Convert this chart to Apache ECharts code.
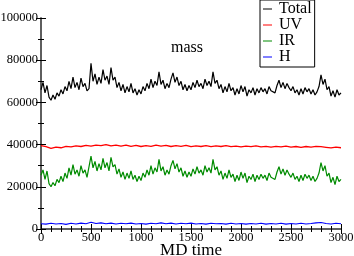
<!DOCTYPE html>
<html><head><meta charset="utf-8">
<script src="https://cdn.jsdelivr.net/npm/echarts@6/dist/echarts.min.js"></script>
<style>html,body{margin:0;padding:0;background:#fff}#c{width:354px;height:256px}</style>
</head><body><div id="c"></div>
<script>
// MD time sampling steps
const stepTotal = 20, stepUV = 50, stepH = 50;
const xTicks = [0, 500, 1000, 1500, 2000, 2500, 3000];
const yTicks = [0, 20000, 40000, 60000, 80000, 100000];
const seriesNames = ['Total', 'UV', 'IR', 'H'];
const totalVals = [66000,69500,64500,68000,62500,61000,63500,61500,64500,63000,
66000,64000,67500,65500,70000,66500,72000,67000,69500,66000,
71500,67500,69000,65500,66500,78500,70000,73500,68500,72000,
69000,75500,70500,72500,68500,76500,70500,72000,67000,69500,
65500,68500,64500,67500,65000,69000,64500,66500,63500,66000,
64000,67500,65500,69000,66500,71000,67000,70000,68000,74500,
68500,70500,66500,69000,67000,71000,74000,69500,72000,68000,
70000,66000,68500,65500,68000,66000,69500,67000,70500,67500,
69000,66500,71000,68000,70000,67500,74500,69000,70500,66500,
68500,64500,67500,65000,69000,65500,67000,63500,66500,64000,
68000,65000,67500,63000,66000,64500,67000,63500,66500,64500,
67000,65000,66500,64000,67500,65500,66000,64500,68000,70500,
67000,69500,66500,69000,67000,65500,67500,64500,66000,63500,
66500,64000,67000,65000,66500,64000,66000,63500,65000,67500,
73000,68500,71000,66000,67500,63000,65500,62500,66000,63500,
64500];
const irVals = [25500,28000,23500,27500,21500,20000,22000,20500,23500,22000,
25000,22500,26500,24000,29000,25500,30500,26000,28000,25000,
30000,26500,28000,24500,25000,34500,29000,32000,27500,31000,
28000,33500,29000,31500,27500,34000,29500,30500,26000,28500,
24500,27000,23500,26500,24000,27500,23500,25500,22500,25000,
23000,26500,24500,28000,25500,30000,26000,29000,27000,33000,
27500,29500,25500,28000,26000,30000,32500,28500,31000,27000,
29000,25000,27500,24500,27000,25000,28500,26000,29500,26500,
28000,25500,30000,27000,29000,26500,33000,28000,29500,25500,
27500,23500,26500,24000,28000,24500,26000,22500,25500,23000,
27000,24000,26500,22000,25000,23500,26000,22500,25500,23500,
26000,24000,25500,23000,26500,24500,25000,23500,27000,29500,
26000,28500,25500,28000,26000,24500,26500,23500,25000,22500,
25500,23000,26000,24000,25500,23000,25000,22500,24000,26500,
31500,27500,30000,25000,26500,22000,24500,21000,25000,22500,
23500];
const uvVals = [39500,39000,38200,38800,38500,39200,38900,39400,39100,39600,
39300,39800,39500,40000,39400,39800,39300,39700,39200,39600,
39100,39500,39200,39700,39300,39600,39100,39500,39200,39600,
39000,39400,39100,39500,39000,39400,39100,39500,39000,39300,
38900,39300,39000,39400,38900,39200,38800,39200,38900,39300,
38800,39100,38700,39100,38800,39200,39000,38700,38400,38800,
38500];
const hVals = [2500,2300,2700,2400,2600,2200,2700,2400,2800,2500,
3200,2600,2900,2500,2800,2400,2700,2500,2800,2400,
2600,2300,2700,2500,2900,2500,2800,2400,2700,2500,
2800,2400,2600,2300,2700,2500,2600,2300,2700,2400,
2600,2300,2600,2400,2700,2300,2600,2400,2700,2300,
2600,2400,2700,2400,2600,2900,3100,2600,2400,2700,
2500];

const pairs = (vals, step) => vals.map((v, i) => [i * step, v]);
const serif = 'Liberation Serif';
const frame = {show: true, lineStyle: {color: '#555', width: 1.5}};
const chart = echarts.init(document.getElementById('c'), null, {renderer: 'canvas'});
const mkX = (pos, labels) => ({
  type: 'value', position: pos, min: xTicks[0], max: xTicks[xTicks.length - 1],
  interval: xTicks[1] - xTicks[0],
  name: pos === 'bottom' ? 'MD time' : '', nameLocation: 'middle', nameGap: 13,
  nameMoveOverlap: false,
  nameTextStyle: {fontFamily: serif, fontSize: 17, color: '#000', verticalAlign: 'top', padding: [0, 0, 0, 0]},
  axisLine: frame, splitLine: {show: false},
  axisTick: {show: true, inside: true, length: 5, lineStyle: {color: '#000'}},
  minorTick: {show: true, splitNumber: 5, length: 3, lineStyle: {color: '#000'}},
  axisLabel: {show: labels, fontFamily: serif, fontSize: 12.5, color: '#000', margin: 2,
    formatter: v => String(v)}
});
const mkY = (pos, labels) => ({
  type: 'value', position: pos, min: yTicks[0], max: yTicks[yTicks.length - 1],
  interval: yTicks[1] - yTicks[0],
  axisLine: frame, splitLine: {show: false},
  axisTick: {show: true, inside: true, length: 5, lineStyle: {color: '#000'}},
  minorTick: {show: true, splitNumber: 2, length: 3, lineStyle: {color: '#000'}},
  axisLabel: {show: labels, fontFamily: serif, fontSize: 12.5, color: '#000', margin: 3,
    formatter: v => String(v)}
});
const line = (name, data, color, w) => ({
  name, type: 'line', data, showSymbol: false, symbol: 'none', animation: false,
  lineStyle: {color, width: w}, itemStyle: {color}, xAxisIndex: 0, yAxisIndex: 0
});
chart.setOption({
  animation: false,
  grid: {left: 41, right: 13, top: 18, bottom: 27, containLabel: false, outerBoundsMode: 'none'},
  xAxis: [mkX('bottom', true), mkX('top', false)],
  yAxis: [mkY('left', true), mkY('right', false)],
  title: {text: 'mass', left: 166, top: 35, textStyle: {fontFamily: serif, fontSize: 16, fontWeight: 'normal', color: '#000'}},
  legend: {
    orient: 'vertical', left: 260, top: 0, data: seriesNames,
    icon: 'rect', itemWidth: 9, itemHeight: 1, itemGap: 0,
    backgroundColor: '#fff', borderColor: '#000', borderWidth: 1, padding: [1, 3, 2, 3],
    textStyle: {fontFamily: serif, fontSize: 16, color: '#000', lineHeight: 15, padding: [0, 0, 0, 2]}
  },
  series: [
    line('Total', pairs(totalVals, stepTotal), '#000000', 1.2),
    line('UV', pairs(uvVals, stepUV), '#ff0000', 1.3),
    line('IR', pairs(irVals, stepTotal), '#008b00', 1.2),
    line('H', pairs(hVals, stepH), '#0000ff', 1.1)
  ]
});
</script></body></html>
